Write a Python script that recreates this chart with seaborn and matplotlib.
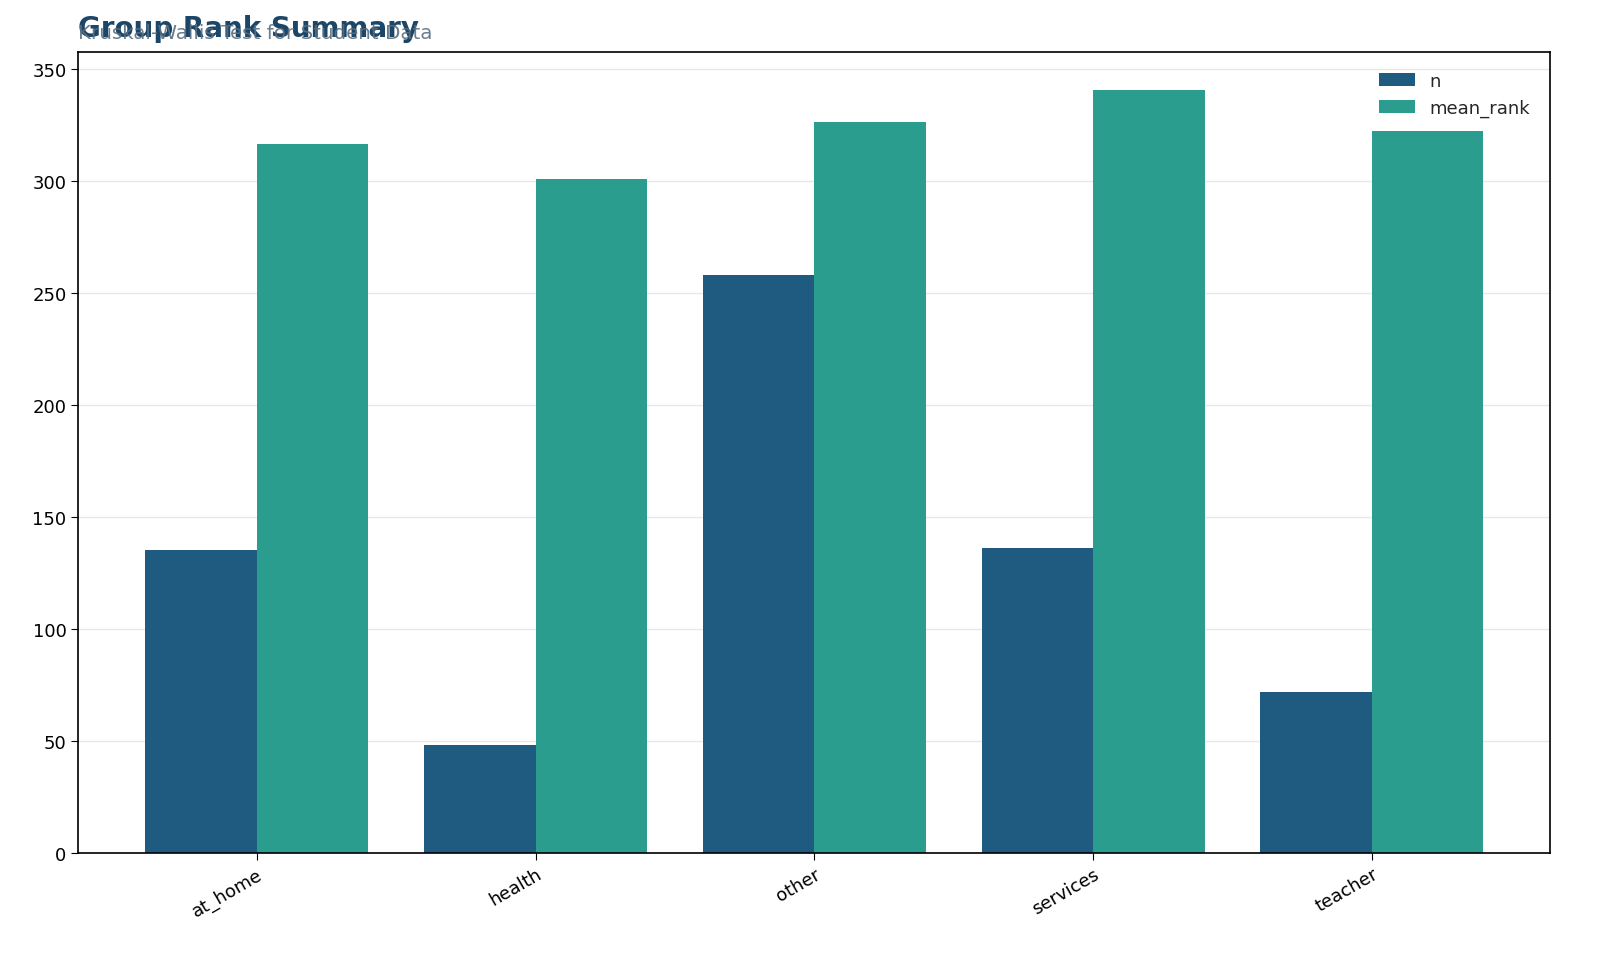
import matplotlib
matplotlib.use("Agg")
import matplotlib.pyplot as plt
import seaborn as sns
import pandas as pd

groups = ["at_home", "health", "other", "services", "teacher"]
n_values = [135, 48, 258, 136, 72]
mean_rank_values = [316.5, 301, 326.3, 340.6, 322.3]
series_names = ["n", "mean_rank"]
palette = ["#1f5a80", "#2a9d8f"]

df = pd.DataFrame({
    "group": groups * 2,
    "metric": [series_names[0]] * len(groups) + [series_names[1]] * len(groups),
    "value": n_values + mean_rank_values,
})

sns.set_style("white")
plt.rcParams['font.family'] = ['DejaVu Sans']
fig, ax = plt.subplots(figsize=(16, 9.78), dpi=100)
fig.subplots_adjust(left=0.049, right=0.969, top=0.946, bottom=0.127)

sns.barplot(data=df, x="group", y="value", hue="metric", palette=palette,
            ax=ax, width=0.8, saturation=1, errorbar=None, linewidth=0)

ax.set_ylim(0, 357.6)
ax.set_xlim(-0.64, 4.64)
ax.yaxis.grid(True, color="#e8e8e8", linewidth=1)
ax.set_axisbelow(True)
ax.set_xlabel("")
ax.set_ylabel("")
for s in ax.spines.values():
    s.set_color("black")
    s.set_linewidth(1.2)
ax.tick_params(axis="both", labelsize=13, length=5, left=True, bottom=True,
               colors="black", labelcolor="black")
plt.setp(ax.get_xticklabels(), rotation=30, ha="right", rotation_mode="anchor")

leg = ax.legend(frameon=False, loc="upper right", fontsize=13, title=None,
                bbox_to_anchor=(0.997, 0.995))

fig.text(0.049, 0.970, "Group Rank Summary", fontsize=20, fontweight="bold",
         color="#1b4668", ha="left", va="center")
fig.text(0.049, 0.966, "Kruskal-Wallis Test for Student Data", fontsize=14.3,
         color="#5a6f80", ha="left", va="center", alpha=0.9)

fig.savefig("out.png", dpi=100)
